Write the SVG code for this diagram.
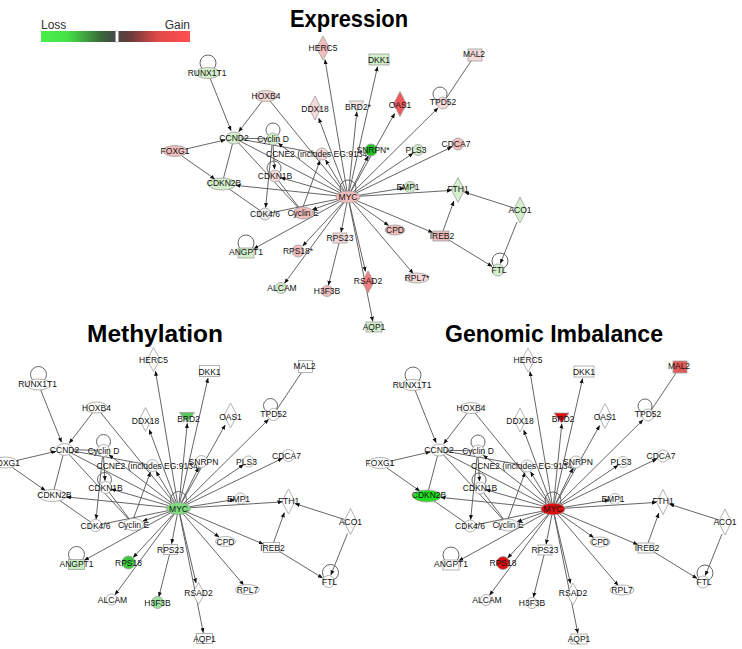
<svg xmlns="http://www.w3.org/2000/svg" xmlns:xlink="http://www.w3.org/1999/xlink" width="742" height="649" viewBox="0 0 742 649">
<defs>
<style>
.c line{stroke:#555;stroke-width:.9;fill:none}
.c .a{marker-end:url(#ah)}
.s{stroke:#a0a0a0;stroke-width:.8}
.lp{fill:none;stroke:#555;stroke-width:.9}
text{font-family:"Liberation Sans",Arial,sans-serif;font-size:8.5px;fill:#111;text-anchor:middle}
.ttl{font-size:24px;font-weight:bold;text-anchor:start;fill:#000}
.lg{font-size:12px;fill:#333}
.w{fill:#fff}.w0{fill:#eeeeee}
.g1{fill:#d4efcc}.g2{fill:#22c322}
.p0{fill:#f8eaea}.p1{fill:#f5d9d9}.p2{fill:#f0bcbc}
.r1{fill:#ee5a5a}.r2{fill:#ef7f7f}
.m1{fill:#7fdc7f}.m2{fill:#5cc85c}.m3{fill:#c6eec0}.m4{fill:#3cc83c}.m5{fill:#9de39d}
.d1{fill:#dd1010}.d2{fill:#e35a5a}.d3{fill:#22dd22}
</style>
<marker id="ah" viewBox="0 0 10 10" refX="9" refY="5" markerWidth="5" markerHeight="5" markerUnits="userSpaceOnUse" orient="auto"><path d="M0,1 L10,5 L0,9 z" fill="#111"/></marker>
<linearGradient id="grad" x1="0" y1="0" x2="1" y2="0">
<stop offset="0" stop-color="#49ee49"/><stop offset="0.18" stop-color="#46e046"/><stop offset="0.4" stop-color="#3a6a3a"/><stop offset="0.5" stop-color="#474747"/><stop offset="0.6" stop-color="#6a3a3a"/><stop offset="0.78" stop-color="#e04848"/><stop offset="1" stop-color="#ff4f4f"/>
</linearGradient>
</defs>
<rect width="742" height="649" fill="#fff"/>

<g id="legend">
<rect x="41" y="31" width="149" height="11" fill="url(#grad)"/>
<rect x="115.5" y="31" width="3" height="11" fill="#fff" stroke="#999" stroke-width="0.5"/>
<text class="lg" x="41" y="29" text-anchor="start" style="text-anchor:start">Loss</text>
<text class="lg" x="190" y="29" style="text-anchor:end">Gain</text>
</g>

<text class="ttl" x="290" y="27" textLength="118" lengthAdjust="spacingAndGlyphs">Expression</text>
<text class="ttl" x="87" y="342" textLength="136" lengthAdjust="spacingAndGlyphs">Methylation</text>
<text class="ttl" x="445" y="342" textLength="218" lengthAdjust="spacingAndGlyphs">Genomic Imbalance</text>

<!-- ===== Expression network ===== -->
<g id="net-expr">
<g id="conn-expr" class="c">
<line x1="266" y1="96" x2="348" y2="197"/>
<line x1="234" y1="138" x2="348" y2="197"/>
<line x1="234" y1="138" x2="222" y2="184"/>
<line x1="234" y1="138" x2="273" y2="139"/>
<line x1="234" y1="138" x2="322" y2="154"/>
<line x1="234" y1="138" x2="303" y2="213"/>
<line x1="275" y1="176" x2="303" y2="213"/>
<line x1="222" y1="184" x2="265" y2="214"/>
<line x1="265" y1="214" x2="348" y2="197"/>
<line x1="475" y1="55" x2="443" y2="103"/>
<line class="a" x1="348" y1="197" x2="325" y2="59.8"/>
<line class="a" x1="348" y1="197" x2="377.5" y2="66.8"/>
<line class="a" x1="348" y1="197" x2="318.8" y2="118.3"/>
<line class="a" x1="348" y1="197" x2="356.8" y2="112"/>
<line class="a" x1="348" y1="197" x2="394.6" y2="113.6"/>
<line class="a" x1="348" y1="197" x2="438" y2="107.9"/>
<line class="a" x1="348" y1="197" x2="367.9" y2="156.3"/>
<line class="a" x1="348" y1="197" x2="413" y2="153.3"/>
<line class="a" x1="348" y1="197" x2="451.7" y2="147"/>
<line class="a" x1="348" y1="197" x2="404.1" y2="188"/>
<line class="a" x1="348" y1="197" x2="451.5" y2="190.4"/>
<line class="a" x1="348" y1="197" x2="432.7" y2="232.5"/>
<line class="a" x1="348" y1="197" x2="388.5" y2="225.4"/>
<line class="a" x1="348" y1="197" x2="413.1" y2="273.4"/>
<line class="a" x1="348" y1="197" x2="365.5" y2="271.3"/>
<line class="a" x1="348" y1="197" x2="372.8" y2="321.1"/>
<line class="a" x1="348" y1="197" x2="341.1" y2="232.1"/>
<line class="a" x1="348" y1="197" x2="302.8" y2="245.9"/>
<line class="a" x1="348" y1="197" x2="253.9" y2="248.7"/>
<line class="a" x1="348" y1="197" x2="284.6" y2="283.2"/>
<line class="a" x1="348" y1="197" x2="312.4" y2="209.7"/>
<line class="a" x1="348" y1="197" x2="235.9" y2="185.4"/>
<line class="a" x1="348" y1="197" x2="280.8" y2="177.7"/>
<line class="a" x1="348" y1="197" x2="325.6" y2="160"/>
<line class="a" x1="348" y1="197" x2="278.5" y2="143.3"/>
<line class="a" x1="339" y1="243" x2="328.4" y2="285.2"/>
<line class="a" x1="210" y1="78" x2="231" y2="130.6"/>
<line class="a" x1="263" y1="100" x2="238.8" y2="131.6"/>
<line class="a" x1="186" y1="149" x2="225.2" y2="139.9"/>
<line class="a" x1="182" y1="156" x2="214.7" y2="178.9"/>
<line class="a" x1="273" y1="145" x2="274.5" y2="169"/>
<line class="a" x1="272" y1="145" x2="265.6" y2="207.5"/>
<line class="a" x1="303" y1="207" x2="319.9" y2="160.7"/>
<line class="a" x1="443" y1="231" x2="453.8" y2="201.3"/>
<line class="a" x1="449" y1="240" x2="492" y2="266.4"/>
<line class="a" x1="514" y1="208" x2="464.7" y2="192.2"/>
<line class="a" x1="517" y1="222" x2="500.4" y2="263.4"/>
</g>
<g id="e-CDKN2B"><ellipse class="s g1" cx="222" cy="184" rx="14" ry="6"/><text x="224" y="186">CDKN2B</text></g>
<g id="e-CCND2"><ellipse class="s g1" cx="234" cy="138" rx="8" ry="6"/><text x="234" y="141">CCND2</text></g>
<g id="e-FOXG1"><ellipse class="s p2" cx="175" cy="151" rx="12" ry="5.5"/><text x="175" y="154">FOXG1</text></g>
<g id="e-CyclinD"><circle class="lp" cx="273" cy="130" r="7"/><circle class="s g1" cx="273" cy="139" r="6"/><text x="273" y="142">Cyclin D</text></g>
<g id="e-CDKN1B"><circle class="lp" cx="274" cy="168" r="7"/><circle class="s p1" cx="275" cy="176" r="6"/><text x="275" y="179">CDKN1B</text></g>
<g id="e-CCNE2"><circle class="s p1" cx="322" cy="154" r="6"/><text x="318" y="157">CCNE2 (includes EG:9134)</text></g>
<g id="e-CDK46"><circle class="s w0" cx="265" cy="214" r="6"/><text x="265" y="217">CDK4/6</text></g>
<g id="e-CyclinE"><ellipse class="s p2" cx="303" cy="213" rx="10" ry="6"/><text x="303" y="216">Cyclin E</text></g>
<g id="e-RUNX1T1"><circle class="lp" cx="208" cy="63" r="8"/><ellipse class="s g1" cx="208" cy="73" rx="12" ry="5.5"/><text x="207" y="75.5">RUNX1T1</text></g>
<g id="e-HOXB4"><ellipse class="s p1" cx="266" cy="96" rx="11" ry="5.5"/><text x="266" y="99">HOXB4</text></g>
<g id="e-HERC5"><polygon class="s p2" points="323,36 329.5,48 323,60 316.5,48"/><text x="323" y="51">HERC5</text></g>
<g id="e-DKK1"><rect class="s g1" x="369" y="54" width="20" height="11"/><text x="379" y="63">DKK1</text></g>
<g id="e-DDX18"><polygon class="s p1" points="315,96 321,108 315,120 309,108"/><text x="315" y="112">DDX18</text></g>
<g id="e-BRD2"><polygon class="s p0" points="349,101 364,101 356.5,111"/><text x="358" y="110">BRD2*</text></g>
<g id="e-OAS1"><polygon class="s r1" points="400,91.5 406.5,104 400,116.5 393.5,104"/><text x="400" y="108">OAS1</text></g>
<g id="e-MAL2"><rect class="s p1" x="468" y="49" width="14" height="12"/><text x="474" y="57">MAL2</text></g>
<g id="e-TPD52"><circle class="lp" cx="440" cy="94" r="7"/><circle class="s p1" cx="443" cy="103" r="6"/><text x="443" y="105">TPD52</text></g>
<g id="e-SNRPN"><circle class="s g2" cx="371" cy="150" r="6"/><text x="373" y="153">SNRPN*</text></g>
<g id="e-PLS3"><circle class="s g1" cx="418" cy="150" r="5.5"/><text x="416" y="153">PLS3</text></g>
<g id="e-CDCA7"><circle class="s p2" cx="458" cy="144" r="6"/><text x="456" y="147">CDCA7</text></g>
<g id="e-EMP1"><circle class="s g1" cx="410" cy="187" r="5.5"/><text x="408" y="190">EMP1</text></g>
<g id="e-FTH1"><polygon class="s g1" points="458,177.5 464.5,190 458,202.5 451.5,190"/><text x="458" y="192">FTH1</text></g>
<g id="e-ACO1"><polygon class="s g1" points="520,197 526.5,210 520,223 513.5,210"/><text x="520" y="213">ACO1</text></g>
<g id="e-IREB2"><rect class="s p2" x="433" y="231" width="16" height="10"/><text x="442" y="239">IREB2</text></g>
<g id="e-FTL"><circle class="lp" cx="500" cy="261" r="8"/><circle class="s g1" cx="498" cy="270" r="6"/><text x="499" y="273">FTL</text></g>
<g id="e-RPL7"><ellipse class="s p1" cx="417" cy="278" rx="12" ry="5"/><text x="417" y="281">RPL7*</text></g>
<g id="e-CPD"><ellipse class="s p2" cx="395" cy="230" rx="10" ry="5"/><text x="395" y="233">CPD</text></g>
<g id="e-RSAD2"><polygon class="s r2" points="368,271 374,282 368,293 362,282"/><text x="368" y="284">RSAD2</text></g>
<g id="e-AQP1"><rect class="s g1" x="366" y="322" width="16" height="10"/><text x="374" y="330">AQP1</text></g>
<g id="e-H3F3B"><circle class="s p2" cx="327" cy="291" r="5.5"/><text x="327" y="294">H3F3B</text></g>
<g id="e-ALCAM"><circle class="s g1" cx="281" cy="288" r="5.5"/><text x="282" y="291">ALCAM</text></g>
<g id="e-RPS23"><rect class="s p1" x="333" y="233" width="14" height="10"/><text x="340" y="241">RPS23</text></g>
<g id="e-RPS18"><circle class="s p2" cx="298" cy="251" r="6"/><text x="298" y="254">RPS18*</text></g>
<g id="e-ANGPT1"><circle class="lp" cx="246" cy="243" r="8"/><rect class="s g1" x="238" y="248" width="16" height="10"/><text x="246" y="255">ANGPT1</text></g>
<g id="e-MYC"><circle class="lp" cx="348" cy="188" r="8"/><ellipse class="s p2" cx="348" cy="197" rx="12" ry="6"/><text x="348" y="200">MYC</text></g>
</g>

<!-- ===== Methylation network ===== -->
<g id="net-meth" transform="translate(-169.5,311.5)">
<g id="conn-meth" class="c"><use xlink:href="#conn-expr" href="#conn-expr"/></g>
<g id="m-CDKN2B"><ellipse class="s w" cx="222" cy="184" rx="14" ry="6"/><text x="224" y="186">CDKN2B</text></g>
<g id="m-CCND2"><ellipse class="s w" cx="234" cy="138" rx="8" ry="6"/><text x="234" y="141">CCND2</text></g>
<g id="m-FOXG1"><ellipse class="s w" cx="175" cy="151" rx="12" ry="5.5"/><text x="175" y="154">FOXG1</text></g>
<g id="m-CyclinD"><circle class="lp" cx="273" cy="130" r="7"/><circle class="s w" cx="273" cy="139" r="6"/><text x="273" y="142">Cyclin D</text></g>
<g id="m-CDKN1B"><circle class="lp" cx="274" cy="168" r="7"/><circle class="s w" cx="275" cy="176" r="6"/><text x="275" y="179">CDKN1B</text></g>
<g id="m-CCNE2"><circle class="s w" cx="322" cy="154" r="6"/><text x="318" y="157">CCNE2 (includes EG:9134)</text></g>
<g id="m-CDK46"><circle class="s w" cx="265" cy="214" r="6"/><text x="265" y="217">CDK4/6</text></g>
<g id="m-CyclinE"><ellipse class="s w" cx="303" cy="213" rx="10" ry="6"/><text x="303" y="216">Cyclin E</text></g>
<g id="m-RUNX1T1"><circle class="lp" cx="208" cy="63" r="8"/><ellipse class="s w" cx="208" cy="73" rx="12" ry="5.5"/><text x="207" y="75.5">RUNX1T1</text></g>
<g id="m-HOXB4"><ellipse class="s w" cx="266" cy="96" rx="11" ry="5.5"/><text x="266" y="99">HOXB4</text></g>
<g id="m-HERC5"><polygon class="s w" points="323,36 329.5,48 323,60 316.5,48"/><text x="323" y="51">HERC5</text></g>
<g id="m-DKK1"><rect class="s w" x="369" y="54" width="20" height="11"/><text x="379" y="63">DKK1</text></g>
<g id="m-DDX18"><polygon class="s w" points="315,96 321,108 315,120 309,108"/><text x="315" y="112">DDX18</text></g>
<g id="m-BRD2"><polygon class="s m2" points="349,101 364,101 356.5,111"/><text x="358" y="110">BRD2</text></g>
<g id="m-OAS1"><polygon class="s w" points="400,91.5 406.5,104 400,116.5 393.5,104"/><text x="400" y="108">OAS1</text></g>
<g id="m-MAL2"><rect class="s w" x="468" y="49" width="14" height="12"/><text x="474" y="57">MAL2</text></g>
<g id="m-TPD52"><circle class="lp" cx="440" cy="94" r="7"/><circle class="s w" cx="443" cy="103" r="6"/><text x="443" y="105">TPD52</text></g>
<g id="m-SNRPN"><circle class="s w" cx="371" cy="150" r="6"/><text x="373" y="153">SNRPN</text></g>
<g id="m-PLS3"><circle class="s w" cx="418" cy="150" r="5.5"/><text x="416" y="153">PLS3</text></g>
<g id="m-CDCA7"><circle class="s w" cx="458" cy="144" r="6"/><text x="456" y="147">CDCA7</text></g>
<g id="m-EMP1"><circle class="s w" cx="410" cy="187" r="5.5"/><text x="408" y="190">EMP1</text></g>
<g id="m-FTH1"><polygon class="s w" points="458,177.5 464.5,190 458,202.5 451.5,190"/><text x="458" y="192">FTH1</text></g>
<g id="m-ACO1"><polygon class="s w" points="520,197 526.5,210 520,223 513.5,210"/><text x="520" y="213">ACO1</text></g>
<g id="m-IREB2"><rect class="s w" x="433" y="231" width="16" height="10"/><text x="442" y="239">IREB2</text></g>
<g id="m-FTL"><circle class="lp" cx="500" cy="261" r="8"/><circle class="s w" cx="498" cy="270" r="6"/><text x="499" y="273">FTL</text></g>
<g id="m-RPL7"><ellipse class="s w" cx="417" cy="278" rx="12" ry="5"/><text x="417" y="281">RPL7</text></g>
<g id="m-CPD"><ellipse class="s w" cx="395" cy="230" rx="10" ry="5"/><text x="395" y="233">CPD</text></g>
<g id="m-RSAD2"><polygon class="s w" points="368,271 374,282 368,293 362,282"/><text x="368" y="284">RSAD2</text></g>
<g id="m-AQP1"><rect class="s w" x="366" y="322" width="16" height="10"/><text x="374" y="330">AQP1</text></g>
<g id="m-H3F3B"><circle class="s m5" cx="327" cy="291" r="6"/><text x="327" y="294">H3F3B</text></g>
<g id="m-ALCAM"><circle class="s w" cx="281" cy="288" r="5.5"/><text x="282" y="291">ALCAM</text></g>
<g id="m-RPS23"><rect class="s w" x="333" y="233" width="14" height="10"/><text x="340" y="241">RPS23</text></g>
<g id="m-RPS18"><circle class="s m4" cx="298" cy="251" r="6.5"/><text x="298" y="254">RPS18</text></g>
<g id="m-ANGPT1"><circle class="lp" cx="246" cy="243" r="8"/><rect class="s m3" x="238" y="248" width="16" height="10"/><text x="246" y="255">ANGPT1</text></g>
<g id="m-MYC"><circle class="lp" cx="348" cy="188" r="8"/><ellipse class="s m1" cx="348" cy="197" rx="12" ry="6"/><text x="348" y="200">MYC</text></g>
</g>

<!-- ===== Genomic Imbalance network ===== -->
<g id="net-gen" transform="translate(205,312)">
<g id="conn-gen" class="c"><use xlink:href="#conn-expr" href="#conn-expr"/></g>
<g id="g-CDKN2B"><ellipse class="s d3" cx="222" cy="184" rx="14" ry="6"/><text x="224" y="186">CDKN2B</text></g>
<g id="g-CCND2"><ellipse class="s w" cx="234" cy="138" rx="8" ry="6"/><text x="234" y="141">CCND2</text></g>
<g id="g-FOXG1"><ellipse class="s w" cx="175" cy="151" rx="12" ry="5.5"/><text x="175" y="154">FOXG1</text></g>
<g id="g-CyclinD"><circle class="lp" cx="273" cy="130" r="7"/><circle class="s w" cx="273" cy="139" r="6"/><text x="273" y="142">Cyclin D</text></g>
<g id="g-CDKN1B"><circle class="lp" cx="274" cy="168" r="7"/><circle class="s w" cx="275" cy="176" r="6"/><text x="275" y="179">CDKN1B</text></g>
<g id="g-CCNE2"><circle class="s w" cx="322" cy="154" r="6"/><text x="318" y="157">CCNE2 (includes EG:9134)</text></g>
<g id="g-CDK46"><circle class="s w" cx="265" cy="214" r="6"/><text x="265" y="217">CDK4/6</text></g>
<g id="g-CyclinE"><ellipse class="s w" cx="303" cy="213" rx="10" ry="6"/><text x="303" y="216">Cyclin E</text></g>
<g id="g-RUNX1T1"><circle class="lp" cx="208" cy="63" r="8"/><ellipse class="s w" cx="208" cy="73" rx="12" ry="5.5"/><text x="207" y="75.5">RUNX1T1</text></g>
<g id="g-HOXB4"><ellipse class="s w" cx="266" cy="96" rx="11" ry="5.5"/><text x="266" y="99">HOXB4</text></g>
<g id="g-HERC5"><polygon class="s w" points="323,36 329.5,48 323,60 316.5,48"/><text x="323" y="51">HERC5</text></g>
<g id="g-DKK1"><rect class="s w" x="369" y="54" width="20" height="11"/><text x="379" y="63">DKK1</text></g>
<g id="g-DDX18"><polygon class="s w" points="315,96 321,108 315,120 309,108"/><text x="315" y="112">DDX18</text></g>
<g id="g-BRD2"><polygon class="s d1" points="349,101 364,101 356.5,111"/><text x="358" y="110">BRD2</text></g>
<g id="g-OAS1"><polygon class="s w" points="400,91.5 406.5,104 400,116.5 393.5,104"/><text x="400" y="108">OAS1</text></g>
<g id="g-MAL2"><rect class="s d2" x="468" y="49" width="14" height="12"/><text x="474" y="57">MAL2</text></g>
<g id="g-TPD52"><circle class="lp" cx="440" cy="94" r="7"/><circle class="s w" cx="443" cy="103" r="6"/><text x="443" y="105">TPD52</text></g>
<g id="g-SNRPN"><circle class="s w" cx="371" cy="150" r="6"/><text x="373" y="153">SNRPN</text></g>
<g id="g-PLS3"><circle class="s w" cx="418" cy="150" r="5.5"/><text x="416" y="153">PLS3</text></g>
<g id="g-CDCA7"><circle class="s w" cx="458" cy="144" r="6"/><text x="456" y="147">CDCA7</text></g>
<g id="g-EMP1"><circle class="s w" cx="410" cy="187" r="5.5"/><text x="408" y="190">EMP1</text></g>
<g id="g-FTH1"><polygon class="s w" points="458,177.5 464.5,190 458,202.5 451.5,190"/><text x="458" y="192">FTH1</text></g>
<g id="g-ACO1"><polygon class="s w" points="520,197 526.5,210 520,223 513.5,210"/><text x="520" y="213">ACO1</text></g>
<g id="g-IREB2"><rect class="s w" x="433" y="231" width="16" height="10"/><text x="442" y="239">IREB2</text></g>
<g id="g-FTL"><circle class="lp" cx="500" cy="261" r="8"/><circle class="s w" cx="498" cy="270" r="6"/><text x="499" y="273">FTL</text></g>
<g id="g-RPL7"><ellipse class="s w" cx="417" cy="278" rx="12" ry="5"/><text x="417" y="281">RPL7</text></g>
<g id="g-CPD"><ellipse class="s w" cx="395" cy="230" rx="10" ry="5"/><text x="395" y="233">CPD</text></g>
<g id="g-RSAD2"><polygon class="s w" points="368,271 374,282 368,293 362,282"/><text x="368" y="284">RSAD2</text></g>
<g id="g-AQP1"><rect class="s w" x="366" y="322" width="16" height="10"/><text x="374" y="330">AQP1</text></g>
<g id="g-H3F3B"><circle class="s w" cx="327" cy="291" r="5.5"/><text x="327" y="294">H3F3B</text></g>
<g id="g-ALCAM"><circle class="s w" cx="281" cy="288" r="5.5"/><text x="282" y="291">ALCAM</text></g>
<g id="g-RPS23"><rect class="s w" x="333" y="233" width="14" height="10"/><text x="340" y="241">RPS23</text></g>
<g id="g-RPS18"><circle class="s d1" cx="298" cy="251" r="6.5"/><text x="298" y="254">RPS18</text></g>
<g id="g-ANGPT1"><circle class="lp" cx="246" cy="243" r="8"/><rect class="s w" x="238" y="248" width="16" height="10"/><text x="246" y="255">ANGPT1</text></g>
<g id="g-MYC"><circle class="lp" cx="348" cy="188" r="8"/><ellipse class="s d1" cx="348" cy="197" rx="12" ry="6"/><text x="348" y="200">MYC</text></g>
</g>
</svg>
